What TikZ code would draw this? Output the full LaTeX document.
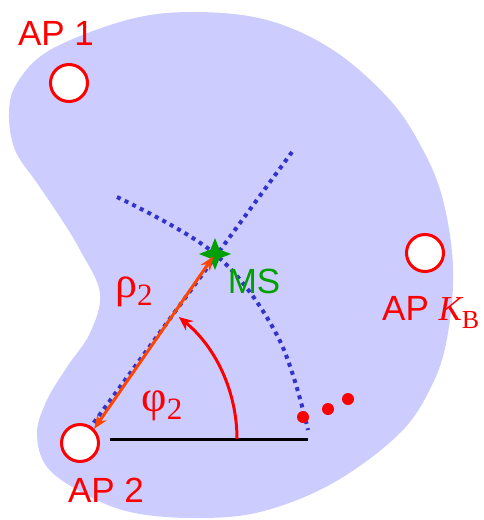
\documentclass[tikz,border=0pt]{standalone}
\usepackage{fontspec}
\setmainfont{Liberation Sans}
\newfontfamily\serifgr{Liberation Serif}
\usetikzlibrary{arrows.meta}
\definecolor{blob}{RGB}{204,204,255}
\definecolor{dotblue}{RGB}{51,51,204}
\definecolor{msgreen}{RGB}{0,160,0}
\definecolor{rhored}{RGB}{255,69,0}
\tikzset{
  apcircle/.style={circle,draw=red,fill=white,line width=3pt,minimum size=37pt,inner sep=0pt},
  aplabel/.style={text=red,font=\fontsize{35}{40}\selectfont,inner sep=0pt},
  greek/.style={text=red,font=\serifgr\fontsize{44}{48}\selectfont,inner sep=0pt},
  dotline/.style={dotblue,line width=4pt,dash pattern=on 4pt off 4.5pt},
  reddot/.style={circle,fill=red,minimum size=12pt,inner sep=0pt},
}
\begin{document}
\begin{tikzpicture}[x=1pt,y=-1pt]
\useasboundingbox (0,0) rectangle (484,520);
% region
\fill[blob] plot[smooth cycle,tension=0.6] coordinates {
 (193,12) (267,20) (333,50) (390,100) (423,150) (443,200) (453,267) (448,333)
 (433,383) (400,433) (333,483) (260,512) (193,518) (130,512) (83,493) (47,467)
 (37,433) (47,400) (67,367) (90,333) (100,293) (80,250) (60,217) (37,183)
 (15,150) (9,113) (17,83) (50,50) (127,20)};
% dotted curves
\draw[dotline] (292,152) -- (87,432);
\draw[dotline] plot[smooth,tension=0.6] coordinates {(117,197) (215,254) (278,337) (308,430)};
% baseline
\draw[line width=3pt] (110,439) -- (308,439);
% angle arc
\draw[red,line width=3pt,-{Stealth[length=14pt,width=12pt]}] (237,439) arc[start angle=0,end angle=51,radius=157pt];
% APs
\node[apcircle] (ap1) at (69,83) {};
\node[apcircle] (apk) at (425,253) {};
\node[apcircle] (ap2) at (80,443) {};
\node[aplabel] (l1) at (56,33) {AP 1};
\node[aplabel] (l2) at (106,490) {AP 2};
\node[aplabel,anchor=west] (lk) at (382,312) {AP \serifgr\itshape K\raisebox{-8pt}{\upshape\fontsize{26}{28}\selectfont B}};
% MS
\coordinate (ms) at (215,254);
\fill[msgreen] ([shift={(0,-16)}]ms) -- ([shift={(4.5,-4.5)}]ms) -- ([shift={(16,0)}]ms) -- ([shift={(4.5,4.5)}]ms)
  -- ([shift={(0,16)}]ms) -- ([shift={(-4.5,4.5)}]ms) -- ([shift={(-16,0)}]ms) -- ([shift={(-4.5,-4.5)}]ms) -- cycle;
\node[text=msgreen,font=\fontsize{35}{40}\selectfont,inner sep=0pt] (msl) at (254,281) {MS};
% rho arrow
\draw[rhored,line width=3pt,{Stealth[length=14pt,width=11pt]}-{Stealth[length=14pt,width=11pt]},shorten >=3pt] (ap2.north east) -- (ms);
% labels
\node[greek] (rho) at (134,292) {ρ\raisebox{-8pt}{\fontsize{31}{33}\selectfont 2}};
\node[greek] (phi) at (162,406) {φ\raisebox{-8pt}{\fontsize{31}{33}\selectfont 2}};
% dots
\node[reddot] (d1) at (303,417) {};
\node[reddot] (d2) at (328,409) {};
\node[reddot] (d3) at (348,399) {};
\end{tikzpicture}
\end{document}
